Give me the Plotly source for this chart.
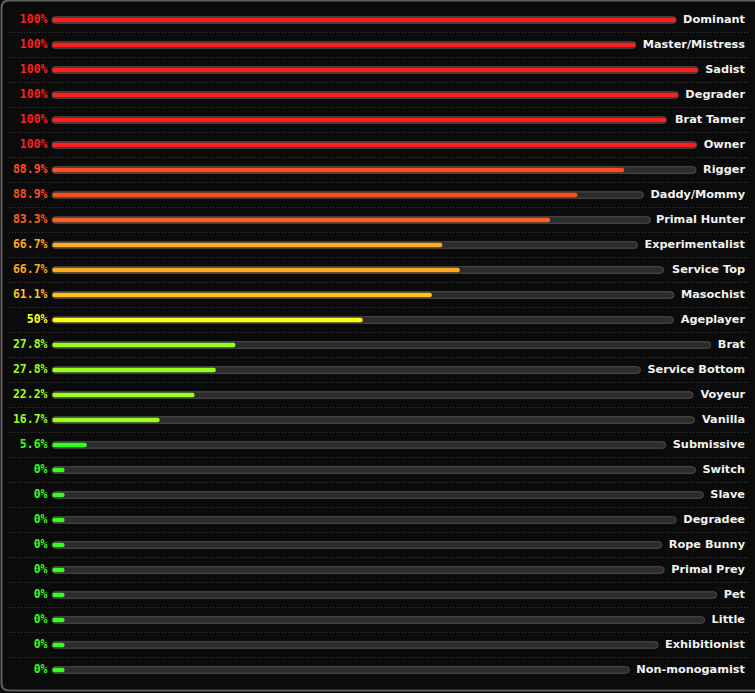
import plotly.graph_objects as go

categories = ["Dominant", "Master/Mistress", "Sadist", "Degrader", "Brat Tamer", "Owner",
              "Rigger", "Daddy/Mommy", "Primal Hunter", "Experimentalist", "Service Top",
              "Masochist", "Ageplayer", "Brat", "Service Bottom", "Voyeur", "Vanilla",
              "Submissive", "Switch", "Slave", "Degradee", "Rope Bunny", "Primal Prey",
              "Pet", "Little", "Exhibitionist", "Non-monogamist"]
values = [100, 100, 100, 100, 100, 100, 88.9, 88.9, 83.3, 66.7, 66.7, 61.1, 50,
          27.8, 27.8, 22.2, 16.7, 5.6, 0, 0, 0, 0, 0, 0, 0, 0, 0]

W, H = 755, 693
ROW0, ROWH = 20.0, 25.0
LABEL_SIZE = 11.3
PCT_SIZE = 11.5
LABEL_RIGHT = 745
TRACK_LEFT = 52
GAP = 7
MIN_FILL = 12
BG = "#0b0b0b"

# approximate advance widths (em) of DejaVu Sans Bold
CW = {' ': .348, '-': .415, '/': .365,
      'A': .774, 'B': .762, 'C': .734, 'D': .830, 'E': .683, 'L': .638, 'M': .994,
      'N': .837, 'O': .850, 'P': .734, 'R': .770, 'S': .720, 'T': .682, 'V': .774,
      'a': .675, 'b': .716, 'c': .593, 'd': .716, 'e': .678, 'f': .435, 'g': .716,
      'h': .712, 'i': .343, 'j': .343, 'k': .665, 'l': .343, 'm': 1.042, 'n': .712,
      'o': .687, 'p': .716, 'q': .716, 'r': .493, 's': .595, 't': .478, 'u': .712,
      'v': .652, 'w': .924, 'x': .645, 'y': .652, 'z': .585}


def text_w(s):
    return sum(CW.get(c, .7) for c in s) * LABEL_SIZE


def color_for(v):
    if v >= 100:
        return "#ff1f1f"
    if v >= 85:
        return "#ff4d1f"
    if v >= 80:
        return "#ff5e1f"
    if v >= 65:
        return "#ffaa1c"
    if v >= 55:
        return "#ffc01c"
    if v >= 45:
        return "#ffff1c"
    if v >= 10:
        return "#99ff1c"
    return "#33ff1c"


def fmt(v):
    return (f"{v:.1f}".rstrip("0").rstrip(".")) + "%"


track_len = [LABEL_RIGHT - text_w(c) - GAP - TRACK_LEFT for c in categories]
fill_len = [max(v / 100.0 * (t - 1), MIN_FILL) for v, t in zip(values, track_len)]
colors = [color_for(v) for v in values]

# y axis: categories; map so row i center is at ROW0 + ROWH*i pixels
y_top = -ROW0 / ROWH
y_bot = y_top + H / ROWH

fig = go.Figure()
fig.add_trace(go.Bar(
    y=categories, x=track_len, base=[TRACK_LEFT] * len(categories), orientation="h",
    width=6.5 / ROWH, marker=dict(color="#2c2c2c", line=dict(color="#505050", width=1)),
    hoverinfo="skip", showlegend=False))
fig.add_trace(go.Bar(
    y=categories, x=fill_len, base=[TRACK_LEFT + 0.5] * len(categories), orientation="h",
    width=4.5 / ROWH, marker=dict(color=colors, line=dict(width=0)),
    hoverinfo="skip", showlegend=False))
fig.add_trace(go.Scatter(
    y=categories, x=[LABEL_RIGHT] * len(categories), mode="text",
    text=categories, textposition="middle left",
    textfont=dict(family="DejaVu Sans", size=LABEL_SIZE, color="#f2f2f2", weight="bold"),
    hoverinfo="skip", showlegend=False))
fig.add_trace(go.Scatter(
    y=categories, x=[47.5] * len(categories), mode="text",
    text=[fmt(v) for v in values], textposition="middle left",
    textfont=dict(family="DejaVu Sans Mono", size=PCT_SIZE, color=colors, weight="bold"),
    hoverinfo="skip", showlegend=False))

shapes = []
for i in range(len(categories) - 1):
    yy = ROW0 + ROWH * (i + 0.5)
    shapes.append(dict(type="line", xref="x", yref="paper", x0=9, x1=750,
                       y0=1 - yy / H, y1=1 - yy / H,
                       line=dict(color="#3c3c3c", width=1, dash="1px,2px")))
# frame
shapes.append(dict(type="path", xref="x", yref="paper",
                   path=(f"M 770,{1 - 0.5 / H} L 9,{1 - 0.5 / H} Q 1.5,{1 - 0.5 / H} 1.5,{1 - 8 / H} "
                         f"L 1.5,{1 - 683 / H} Q 1.5,{1 - 690.5 / H} 9,{1 - 690.5 / H} L 770,{1 - 690.5 / H}"),
                   line=dict(color="#5f5f5f", width=2)))

fig.update_layout(
    width=W, height=H, autosize=False,
    margin=dict(l=0, r=0, t=0, b=0, pad=0),
    paper_bgcolor=BG, plot_bgcolor=BG,
    barmode="overlay", barcornerradius=3,
    shapes=shapes,
    xaxis=dict(range=[0, W], visible=False, fixedrange=True),
    yaxis=dict(type="category", categoryorder="array", categoryarray=categories,
               range=[y_bot, y_top], visible=False, fixedrange=True),
)

fig.write_html("out.html", config={"displayModeBar": False},
               post_script=("document.body.style.margin='0';"
                            "document.body.style.overflow='hidden';"
                            f"document.body.style.background='{BG}';"))
